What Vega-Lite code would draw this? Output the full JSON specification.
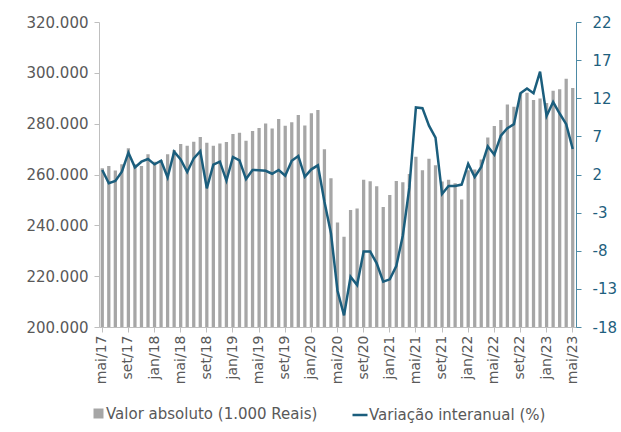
{
  "$schema": "https://vega.github.io/schema/vega-lite/v6.json",
  "width": 477,
  "height": 305,
  "autosize": {"type": "none"},
  "padding": {"left": 99, "top": 22, "right": 45, "bottom": 105},
  "background": "white",
  "config": {
    "view": {"stroke": null},
    "font": "DejaVu Sans",
    "axis": {"grid": false, "labelFont": "DejaVu Sans", "tickSize": 5}
  },
  "data": {"values": [
    {"mes": "mai/17", "valor": 262500, "var": 2.6},
    {"mes": "jun/17", "valor": 263300, "var": 0.85},
    {"mes": "jul/17", "valor": 261600, "var": 1.15},
    {"mes": "ago/17", "valor": 264000, "var": 2.37},
    {"mes": "set/17", "valor": 270300, "var": 4.86},
    {"mes": "out/17", "valor": 264000, "var": 2.94},
    {"mes": "nov/17", "valor": 263300, "var": 3.68},
    {"mes": "dez/17", "valor": 268000, "var": 4.03},
    {"mes": "jan/18", "valor": 265000, "var": 3.33},
    {"mes": "fev/18", "valor": 265700, "var": 3.81},
    {"mes": "mar/18", "valor": 268000, "var": 1.63},
    {"mes": "abr/18", "valor": 269600, "var": 5.0},
    {"mes": "mai/18", "valor": 272000, "var": 3.99},
    {"mes": "jun/18", "valor": 271300, "var": 2.33},
    {"mes": "jul/18", "valor": 272900, "var": 4.12},
    {"mes": "ago/18", "valor": 274800, "var": 5.05},
    {"mes": "set/18", "valor": 272500, "var": 0.19},
    {"mes": "out/18", "valor": 271300, "var": 3.3},
    {"mes": "nov/18", "valor": 272200, "var": 3.68},
    {"mes": "dez/18", "valor": 272800, "var": 1.2},
    {"mes": "jan/19", "valor": 275900, "var": 4.3},
    {"mes": "fev/19", "valor": 276400, "var": 3.85},
    {"mes": "mar/19", "valor": 273300, "var": 1.4},
    {"mes": "abr/19", "valor": 277100, "var": 2.59},
    {"mes": "mai/19", "valor": 278300, "var": 2.57},
    {"mes": "jun/19", "valor": 280100, "var": 2.48},
    {"mes": "jul/19", "valor": 278100, "var": 2.1},
    {"mes": "ago/19", "valor": 281800, "var": 2.59},
    {"mes": "set/19", "valor": 279200, "var": 1.85},
    {"mes": "out/19", "valor": 280600, "var": 3.8},
    {"mes": "nov/19", "valor": 283400, "var": 4.43},
    {"mes": "dez/19", "valor": 279300, "var": 1.7},
    {"mes": "jan/20", "valor": 284100, "var": 2.68},
    {"mes": "fev/20", "valor": 285400, "var": 3.2},
    {"mes": "mar/20", "valor": 269900, "var": -1.57},
    {"mes": "abr/20", "valor": 258500, "var": -5.7},
    {"mes": "mai/20", "valor": 241100, "var": -13.24},
    {"mes": "jun/20", "valor": 235500, "var": -16.47},
    {"mes": "jul/20", "valor": 246000, "var": -11.4},
    {"mes": "ago/20", "valor": 246600, "var": -12.5},
    {"mes": "set/20", "valor": 257900, "var": -8.1},
    {"mes": "out/20", "valor": 257300, "var": -8.1},
    {"mes": "nov/20", "valor": 255400, "var": -9.65},
    {"mes": "dez/20", "valor": 247200, "var": -12.06},
    {"mes": "jan/21", "valor": 251900, "var": -11.75},
    {"mes": "fev/21", "valor": 257400, "var": -10.0},
    {"mes": "mar/21", "valor": 257000, "var": -6.0},
    {"mes": "abr/21", "valor": 260200, "var": 0.3},
    {"mes": "mai/21", "valor": 267000, "var": 10.8},
    {"mes": "jun/21", "valor": 261700, "var": 10.7},
    {"mes": "jul/21", "valor": 266200, "var": 8.4},
    {"mes": "ago/21", "valor": 263600, "var": 6.83},
    {"mes": "set/21", "valor": 257200, "var": -0.56},
    {"mes": "out/21", "valor": 257900, "var": 0.5},
    {"mes": "nov/21", "valor": 256600, "var": 0.5},
    {"mes": "dez/21", "valor": 250200, "var": 0.68},
    {"mes": "jan/22", "valor": 261700, "var": 3.4},
    {"mes": "fev/22", "valor": 262000, "var": 1.67},
    {"mes": "mar/22", "valor": 265900, "var": 3.0},
    {"mes": "abr/22", "valor": 274600, "var": 5.7},
    {"mes": "mai/22", "valor": 279100, "var": 4.6},
    {"mes": "jun/22", "valor": 281400, "var": 7.1},
    {"mes": "jul/22", "valor": 287500, "var": 8.06},
    {"mes": "ago/22", "valor": 286700, "var": 8.6},
    {"mes": "set/22", "valor": 291900, "var": 12.65},
    {"mes": "out/22", "valor": 292200, "var": 13.27},
    {"mes": "nov/22", "valor": 289300, "var": 12.65},
    {"mes": "dez/22", "valor": 289900, "var": 15.5},
    {"mes": "jan/23", "valor": 288100, "var": 9.67},
    {"mes": "fev/23", "valor": 293000, "var": 11.5},
    {"mes": "mar/23", "valor": 293500, "var": 10.0},
    {"mes": "abr/23", "valor": 297700, "var": 8.6},
    {"mes": "mai/23", "valor": 294000, "var": 5.35}
  ]},
  "encoding": {
    "x": {
      "field": "mes",
      "type": "ordinal",
      "sort": null,
      "scale": {"paddingInner": 0.5, "paddingOuter": 0.25},
      "axis": {
        "title": null,
        "values": ["mai/17","set/17","jan/18","mai/18","set/18","jan/19","mai/19","set/19","jan/20","mai/20","set/20","jan/21","mai/21","set/21","jan/22","mai/22","set/22","jan/23","mai/23"],
        "labelAngle": -90,
        "labelFontSize": 14,
        "labelColor": "#595959",
        "domainColor": "#bfbfbf",
        "tickColor": "#bfbfbf",
        "labelPadding": 3
      }
    }
  },
  "layer": [
    {
      "mark": {"type": "bar", "color": "#a6a6a6", "clip": true},
      "encoding": {
        "y": {
          "field": "valor",
          "type": "quantitative",
          "scale": {"domain": [200000, 320000], "zero": false, "nice": false},
          "axis": {
            "title": null,
            "orient": "left",
            "values": [200000, 220000, 240000, 260000, 280000, 300000, 320000],
            "labelExpr": "format(datum.value / 1000, 'd') + '.000'",
            "labelFontSize": 15,
            "labelColor": "#595959",
            "domainColor": "#bfbfbf",
            "tickColor": "#bfbfbf",
            "labelPadding": 6
          }
        },
        "fill": {
          "datum": "Valor absoluto (1.000 Reais)",
          "scale": {"range": ["#a6a6a6"]},
          "legend": {
            "title": null,
            "orient": "none",
            "legendX": -8,
            "legendY": 384,
            "symbolType": "square",
            "symbolSize": 100,
            "labelFontSize": 15,
            "labelColor": "#595959",
            "labelOffset": 0,
            "labelLimit": 400,
            "padding": 0
          }
        }
      }
    },
    {
      "mark": {"type": "line", "color": "#1b5e7d", "strokeWidth": 2.5},
      "encoding": {
        "y": {
          "field": "var",
          "type": "quantitative",
          "scale": {"domain": [-18, 22], "zero": false, "nice": false},
          "axis": {
            "title": null,
            "orient": "right",
            "values": [-18, -13, -8, -3, 2, 7, 12, 17, 22],
            "labelExpr": "datum.value + ''",
            "labelFontSize": 15,
            "labelColor": "#1f5f7e",
            "domainColor": "#4d8aa5",
            "tickColor": "#4d8aa5",
            "labelPadding": 11
          }
        },
        "stroke": {
          "datum": "Variação interanual (%)",
          "scale": {"range": ["#1b5e7d"]},
          "legend": {
            "title": null,
            "orient": "none",
            "legendX": 252,
            "legendY": 384,
            "symbolType": "stroke",
            "symbolSize": 225,
            "symbolStrokeWidth": 2.5,
            "labelFontSize": 15,
            "labelColor": "#595959",
            "labelOffset": 0,
            "labelLimit": 400,
            "padding": 0
          }
        }
      }
    }
  ],
  "resolve": {"scale": {"y": "independent"}}
}
